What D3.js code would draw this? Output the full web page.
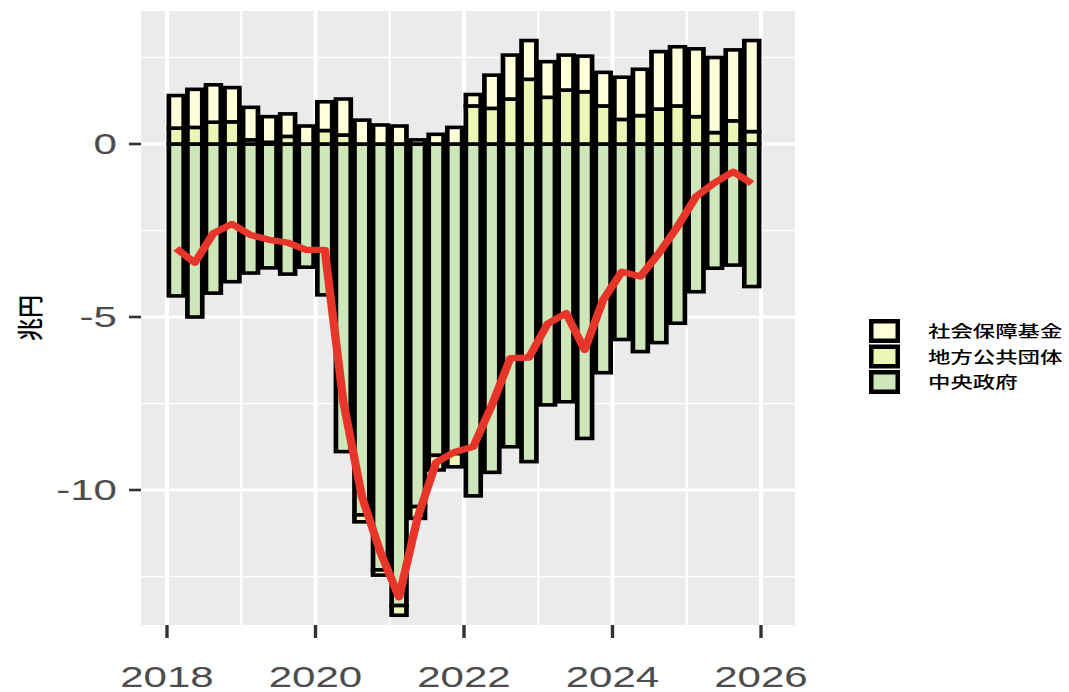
<!DOCTYPE html>
<html><head><meta charset="utf-8">
<script src="https://cdn.jsdelivr.net/npm/d3@7"></script>
<style>body{margin:0;background:#fff} svg{display:block}</style>
</head><body>
<svg id="chart" width="1069" height="692"></svg>
<script>
// ---- data ----
const quarters = ["2018Q1","2018Q2","2018Q3","2018Q4","2019Q1","2019Q2","2019Q3","2019Q4",
  "2020Q1","2020Q2","2020Q3","2020Q4","2021Q1","2021Q2","2021Q3","2021Q4",
  "2022Q1","2022Q2","2022Q3","2022Q4","2023Q1","2023Q2","2023Q3","2023Q4",
  "2024Q1","2024Q2","2024Q3","2024Q4","2025Q1","2025Q2","2025Q3","2025Q4"];
const social = [0.94,1.10,1.08,0.99,0.94,0.74,0.65,0.52,0.83,1.04,0.69,0.55,0.52,0.12,0.28,0.48,
  0.33,0.96,1.27,1.12,1.03,1.01,1.03,0.97,1.22,1.34,1.66,1.71,1.96,2.17,2.05,2.63];
const local = [0.46,0.48,0.63,0.64,0.12,0.05,0.22,0.0,0.39,0.26,-0.20,-0.15,-0.28,-0.34,-0.42,-0.38,
  1.10,1.03,1.30,1.87,1.35,1.56,1.51,1.10,0.71,0.82,1.01,1.10,0.79,0.33,0.67,0.36];
const central = [-4.39,-5.00,-4.31,-3.98,-3.73,-3.58,-3.76,-3.56,-4.36,-8.89,-10.72,-12.31,-13.34,-10.48,-9.00,-8.95,
  -10.17,-9.49,-8.75,-9.18,-7.54,-7.45,-8.51,-6.61,-5.65,-6.00,-5.74,-5.18,-4.27,-3.59,-3.50,-4.12];
const total = [-3.02,-3.43,-2.58,-2.31,-2.63,-2.77,-2.85,-3.06,-3.06,-7.45,-10.19,-11.80,-13.10,-10.80,-9.20,-8.90,
  -8.75,-7.55,-6.19,-6.17,-5.20,-4.89,-5.95,-4.50,-3.69,-3.83,-3.16,-2.39,-1.52,-1.12,-0.80,-1.14];
const seriesNames = ["社会保障基金","地方公共団体","中央政府"];
const seriesColors = ["#FFFFD9","#EEF6B6","#CDE7BA"];
const yTicks = [-10,-5,0];
const yMinor = [-12.5,-7.5,-2.5,2.5];
const xTicks = [2018,2020,2022,2024,2026];
const xMinor = [2019,2021,2023,2025];

// ---- layout (screen px) ----
const S = 1.3;             // horizontal stretch of the plot drawing
const TS = 1.45;           // horizontal stretch of axis text
const panel = {l:141, r:795, t:11, b:625};

const svg = d3.select("#chart");
const g = svg.append("g").attr("transform", `scale(${S},1)`);

const x = d3.scaleLinear().domain([2018, 2026]).range([167/S, 761/S]);
const y = d3.scaleLinear().domain([0, -10]).range([144, 490]);

const rows = quarters.map((q,i)=>({
  t: +q.slice(0,4) + (+q.slice(5) - 0.5)/4,
  social: social[i], local: local[i], central: central[i], total: total[i]
}));

// panel background
g.append("rect").attr("x", panel.l/S).attr("y", panel.t)
  .attr("width", (panel.r-panel.l)/S).attr("height", panel.b-panel.t).attr("fill","#EBEBEB");

// gridlines
const grid = g.append("g").attr("stroke","#fff");
yMinor.forEach(v=>grid.append("line").attr("x1",panel.l/S).attr("x2",panel.r/S)
  .attr("y1",y(v)).attr("y2",y(v)).attr("stroke-width",1.7));
xMinor.forEach(v=>grid.append("line").attr("x1",x(v)).attr("x2",x(v))
  .attr("y1",panel.t).attr("y2",panel.b).attr("stroke-width",1.7));
yTicks.forEach(v=>grid.append("line").attr("x1",panel.l/S).attr("x2",panel.r/S)
  .attr("y1",y(v)).attr("y2",y(v)).attr("stroke-width",3.2));
xTicks.forEach(v=>grid.append("line").attr("x1",x(v)).attr("x2",x(v))
  .attr("y1",panel.t).attr("y2",panel.b).attr("stroke-width",3.2));

// stacked bars
const keys = ["central","local","social"];
const colorOf = {social:seriesColors[0], local:seriesColors[1], central:seriesColors[2]};
const stack = d3.stack().keys(keys).offset(d3.stackOffsetDiverging);
const stacked = stack(rows);
const bw = 0.2;
const bars = g.append("g");
stacked.forEach(layer=>{
  bars.append("g").attr("fill", colorOf[layer.key]).attr("stroke","#000").attr("stroke-width",3.6)
    .selectAll("rect").data(layer.filter(d=>d[1]!==d[0])).join("rect")
    .attr("x", d=>x(d.data.t - bw/2))
    .attr("width", d=>x(d.data.t + bw/2) - x(d.data.t - bw/2))
    .attr("y", d=>y(Math.max(d[0],d[1])))
    .attr("height", d=>Math.abs(y(d[0]) - y(d[1])));
});

// total line
g.append("path").datum(rows)
  .attr("fill","none").attr("stroke","#E8352A").attr("stroke-width",6.4)
  .attr("stroke-linejoin","round").attr("stroke-linecap","butt")
  .attr("d", d3.line().x(d=>x(d.t)).y(d=>y(d.total)));

// ticks
const tk = g.append("g").attr("stroke","#333").attr("stroke-width",2.6);
yTicks.forEach(v=>tk.append("line").attr("x1",129/S).attr("x2",panel.l/S).attr("y1",y(v)).attr("y2",y(v)));
xTicks.forEach(v=>tk.append("line").attr("x1",x(v)).attr("x2",x(v)).attr("y1",panel.b).attr("y2",panel.b+13));

// tick labels (screen coordinates, stretched glyphs)
const font = "'Liberation Sans', Arial, sans-serif";
yTicks.forEach(v=>{
  svg.append("text").attr("transform",`translate(117,${y(v)}) scale(${TS},1)`)
    .attr("text-anchor","end").attr("dy","0.36em")
    .attr("font-family",font).attr("font-size",29).attr("fill","#4D4D4D")
    .text(d3.format("d")(v).replace("−","-"));
});
xTicks.forEach(v=>{
  svg.append("text").attr("transform",`translate(${x(v)*S},687) scale(${TS},1)`)
    .attr("text-anchor","middle")
    .attr("font-family",font).attr("font-size",29).attr("fill","#4D4D4D")
    .text(v);
});

// y title
const cjk = "'Noto Sans CJK JP', 'Noto Sans CJK SC', sans-serif";
svg.append("text").attr("transform","translate(30,318) scale(1.15,1) rotate(-90)")
  .attr("text-anchor","middle").attr("dy","0.36em")
  .attr("font-family",cjk).attr("font-size",23).attr("font-weight",500).attr("fill","#000").text("兆円");

// legend
const lg = svg.append("g");
seriesNames.forEach((name,i)=>{
  const yy = 321.25 + i*25.5;
  lg.append("rect").attr("x",871.25).attr("y",yy).attr("width",26.5).attr("height",19.5)
    .attr("fill",seriesColors[i]).attr("stroke","#000").attr("stroke-width",4.5);
  lg.append("text").attr("transform",`translate(928,${yy+10}) scale(1.4,1)`)
    .attr("dy","0.36em").attr("font-family",cjk).attr("font-size",16).attr("font-weight",500).attr("fill","#000")
    .text(name);
});
</script>
</body></html>
